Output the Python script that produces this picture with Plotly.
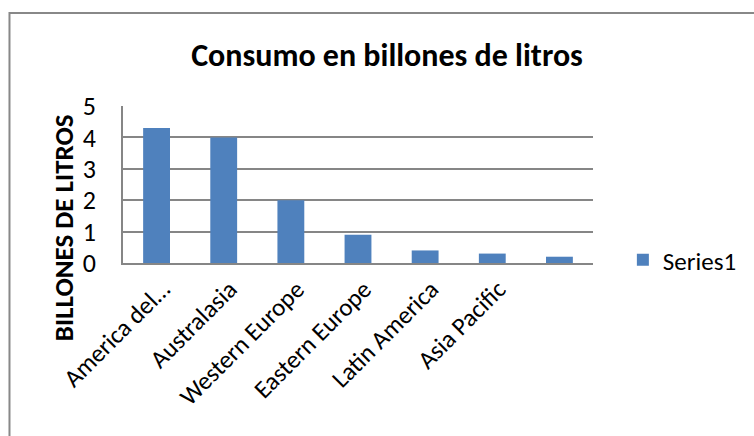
import plotly.graph_objects as go

# Data
regions = ["America del…", "Australasia", "Western Europe", "Eastern Europe",
           "Latin America", "Asia Pacific", ""]
consumo = [4.3, 4.0, 2.0, 0.9, 0.4, 0.3, 0.2]
y_ticks = [0, 1, 2, 3, 4, 5]
series_name = "Series1"
title_text = "Consumo en billones de litros"
y_title = "BILLONES DE LITROS"

FONT = "Carlito, Calibri, Lato, sans-serif"
GRID = "#868686"
BAR = "#4F81BD"

W, H = 754, 436
L, R, T, B = 123, 595, 106, 263  # plot area in pixels


def px_x(p):
    return (p - L) / (R - L)


def px_y(p):
    return (B - p) / (B - T)


fig = go.Figure(
    go.Bar(
        x=list(range(len(regions))),
        y=consumo,
        name=series_name,
        marker=dict(color=BAR, line=dict(width=0)),
        showlegend=True,
    )
)

fig.update_layout(
    width=W,
    height=H,
    margin=dict(l=L, r=W - R, t=T, b=H - B, pad=0),
    paper_bgcolor="white",
    plot_bgcolor="white",
    bargap=0.6,
    font=dict(family=FONT, color="black"),
    showlegend=True,
    legend=dict(
        x=px_x(625), y=px_y(260), xanchor="left", yanchor="middle",
        font=dict(family=FONT, size=25, color="black"),
        bgcolor="rgba(0,0,0,0)",
    ),
    title=dict(
        text="<b>" + title_text + "</b>",
        x=387 / W, xanchor="center",
        y=1 - 55 / H, yanchor="middle",
        font=dict(family=FONT, size=32, color="black"),
    ),
)

fig.update_xaxes(
    range=[-0.5, len(regions) - 0.5],
    tickmode="array",
    tickvals=list(range(len(regions))),
    ticktext=regions,
    tickangle=-45,
    tickfont=dict(family=FONT, size=25, color="black"),
    showline=True, linecolor=GRID, linewidth=1.5,
    showgrid=False, zeroline=False, ticks="",
    ticklabelshift=6,
)

fig.update_yaxes(
    range=[0, 5],
    tickmode="array",
    tickvals=y_ticks,
    ticktext=[str(v) for v in y_ticks],
    tickfont=dict(family=FONT, size=26, color="black"),
    showline=True, linecolor=GRID, linewidth=1.5,
    showgrid=True, gridcolor=GRID, gridwidth=1.5,
    zeroline=False, ticks="",
    ticklabelstandoff=20,
)

# Vertical axis title
fig.add_annotation(
    text="<b>" + y_title + "</b>",
    xref="paper", yref="paper",
    x=px_x(63), y=px_y(228),
    xanchor="center", yanchor="middle",
    textangle=-90, showarrow=False,
    font=dict(family=FONT, size=27, color="black"),
)

# Chart area frame
fig.add_shape(
    type="rect", xref="paper", yref="paper",
    x0=px_x(9), y0=px_y(460), x1=px_x(780), y1=px_y(13),
    line=dict(color="#888888", width=2),
    fillcolor="rgba(0,0,0,0)", layer="below",
)

fig.write_html("out.html")
